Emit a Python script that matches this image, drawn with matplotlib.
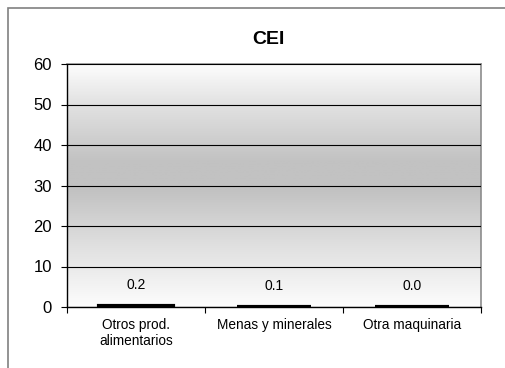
import matplotlib
matplotlib.use("Agg")
import matplotlib.pyplot as plt
import numpy as np
from matplotlib.colors import LinearSegmentedColormap
from matplotlib.patches import Rectangle

plt.rcParams['font.family'] = ['Liberation Sans', 'DejaVu Sans']

title = "CEI"
categories = ["Otros prod.\nalimentarios", "Menas y minerales", "Otra maquinaria"]
values = [0.2, 0.1, 0.0]
labels = ["0.2", "0.1", "0.0"]
yticks = [0, 10, 20, 30, 40, 50, 60]

fig = plt.figure(figsize=(5.06, 3.68), dpi=100)
fig.patch.set_facecolor("white")
fig.patches.append(Rectangle((8/506, -0.1), 1.2, 1 - 8/368 + 0.1, transform=fig.transFigure,
                             fill=False, edgecolor="#808080", linewidth=1.2))

ax = fig.add_axes([67/506, 61/368, 414/506, 243/368])
x = np.arange(len(categories))
ax.set_xlim(-0.5, len(categories) - 0.5)

cmap = LinearSegmentedColormap.from_list("g", [(0, "#fdfdfd"), (0.25, "#e0e0e0"), (0.48, "#c2c2c2"), (0.6, "#c2c2c2"), (0.85, "#e4e4e4"), (1, "#fdfdfd")])
grad = np.linspace(0, 1, 256).reshape(-1, 1)
ax.imshow(grad, cmap=cmap, aspect="auto", extent=(-0.5, len(categories) - 0.5, 60, 0), zorder=0)
ax.set_ylim(0, 60)

ax.set_yticks(yticks)
ax.yaxis.grid(True, color="black", linewidth=0.8, zorder=1)
ax.set_axisbelow(False)
ax.bar(x, values, width=0.53, color="black", edgecolor="black", linewidth=3.0, zorder=3)
for xi, v, lab in zip(x, values, labels):
    ax.annotate(lab, (xi, v), xytext=(0, 15), textcoords="offset points",
                ha="center", va="center", fontsize=10)

ax.set_xticks(np.arange(len(categories) + 1) - 0.5, minor=False)
ax.set_xticklabels([])
ax.set_xticks(x, minor=True)
ax.set_xticklabels(categories, minor=True, fontsize=9.8, linespacing=1.15)
ax.tick_params(axis="x", which="minor", length=0, pad=8)
ax.tick_params(axis="x", which="major", length=4, direction="out", color="black")
ax.tick_params(axis="y", length=4.3, direction="out", labelsize=12, pad=6.5)

for s in ["top", "right"]:
    ax.spines[s].set_color("#8c8c8c")
    ax.spines[s].set_linewidth(1.2)
for s in ["left", "bottom"]:
    ax.spines[s].set_color("black")
    ax.spines[s].set_linewidth(1.0)

fig.text(268/506, 1 - 40/368, title, ha="center", va="center", fontsize=14, fontweight="bold")

fig.savefig("out.png", dpi=100)
